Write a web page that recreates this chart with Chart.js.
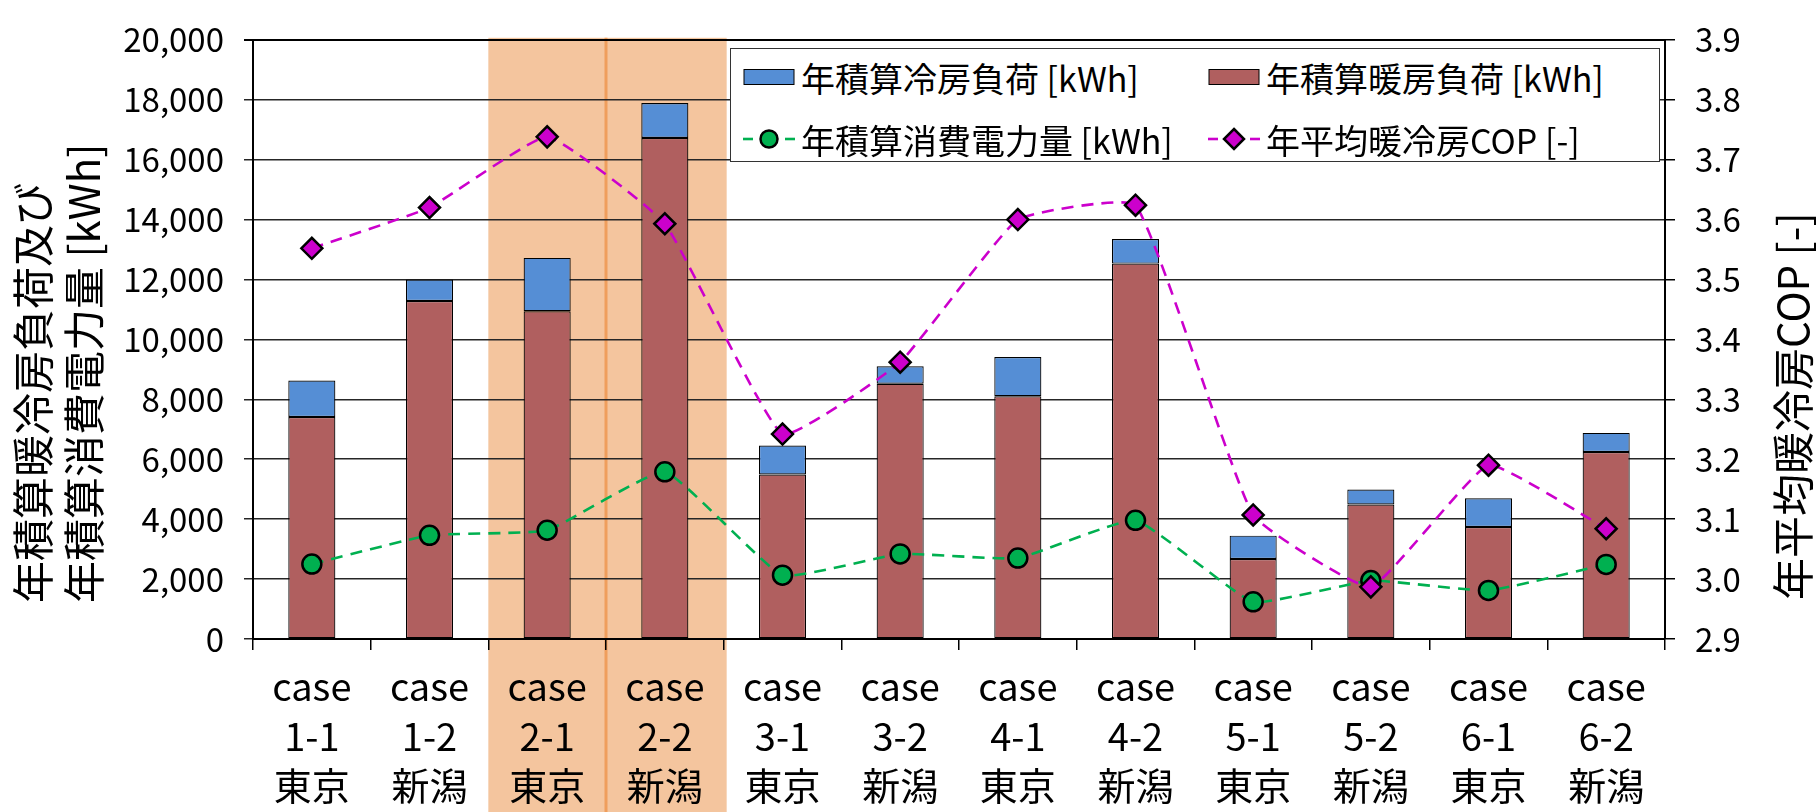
<!DOCTYPE html>
<html lang="ja">
<head>
<meta charset="utf-8">
<title>年積算負荷・消費電力量と年平均暖冷房COP</title>
<script src="https://cdn.jsdelivr.net/npm/chart.js@4.4.1/dist/chart.umd.min.js"></script>
<style>
  html, body { margin: 0; padding: 0; background: #fff; }
  #wrap { position: relative; width: 1816px; height: 812px; }
  #chart { position: absolute; left: 0; top: 0; }
  #legend {
    position: absolute; left: 730px; top: 48px; width: 928px; height: 112px;
    border: 1.5px solid #333; background: #fff;
    font-family: 'Noto Sans CJK JP', sans-serif; font-size: 34px; color: #000;
  }
  #legend .item { position: absolute; display: flex; align-items: center; height: 44px; white-space: nowrap; }
  #legend .item svg { margin-right: 6px; flex: none; }
</style>
</head>
<body>
<div id="wrap">
  <canvas id="chart" width="1816" height="812"></canvas>
  <div id="legend"></div>
</div>
<script>
// ---- data ----
const caseIds = ['1-1', '1-2', '2-1', '2-2', '3-1', '3-2', '4-1', '4-2', '5-1', '5-2', '6-1', '6-2'];
const cities  = ['東京', '新潟', '東京', '新潟', '東京', '新潟', '東京', '新潟', '東京', '新潟', '東京', '新潟'];
const highlightedCases = ['2-1', '2-2'];

const coolingLoad = [1220, 720, 1780, 1170, 970, 580, 1310, 820, 780, 500, 960, 640];        // 年積算冷房負荷 [kWh]
const heatingLoad = [7410, 11280, 10940, 16720, 5490, 8520, 8100, 12530, 2670, 4490, 3740, 6240]; // 年積算暖房負荷 [kWh]
const powerUse    = [2500, 3460, 3630, 5580, 2130, 2840, 2700, 3960, 1240, 1950, 1620, 2490];   // 年積算消費電力量 [kWh]
const copValues   = [3.552, 3.620, 3.738, 3.593, 3.242, 3.362, 3.600, 3.624, 3.107, 2.987, 3.190, 3.084]; // 年平均暖冷房COP [-]

const loadAxis = { min: 0, max: 20000, step: 2000 };
const copAxis  = { min: 2.9, max: 3.9, step: 0.1 };

const seriesNames = {
  cooling: '年積算冷房負荷 [kWh]',
  heating: '年積算暖房負荷 [kWh]',
  power:   '年積算消費電力量 [kWh]',
  cop:     '年平均暖冷房COP [-]'
};
const leftTitle  = ['年積算暖冷房負荷及び', '年積算消費電力量 [kWh]'];
const rightTitle = '年平均暖冷房COP [-]';

const labels = caseIds.map((id, i) => ['case', id, cities[i]]);

const FONT = "'Noto Sans CJK JP', sans-serif";
const LINE_TENSION = 0.12;

// shaded band behind the highlighted cases, with a divider between them
const caseBand = {
  id: 'caseBand',
  beforeDraw(chart) {
    const { ctx, chartArea, scales: { x } } = chart;
    const idx = highlightedCases.map(c => caseIds.indexOf(c));
    const lo = Math.min(...idx), hi = Math.max(...idx);
    const step = x.width / caseIds.length;
    const left = x.getPixelForValue(lo) - step / 2;
    const right = x.getPixelForValue(hi) + step / 2 + 3;
    const top = chartArea.top - 2;
    ctx.save();
    ctx.fillStyle = '#F4C59E';
    ctx.fillRect(left, top, right - left, chart.height - top);
    ctx.strokeStyle = '#EF9E5C';
    ctx.lineWidth = 3;
    for (let i = lo + 1; i <= hi; i++) {
      const xx = x.getPixelForValue(i) - step / 2;
      ctx.beginPath();
      ctx.moveTo(xx, top);
      ctx.lineTo(xx, chart.height);
      ctx.stroke();
    }
    ctx.restore();
  }
};

// rotated axis titles, both reading bottom-to-top
const axisTitles = {
  id: 'axisTitles',
  afterDraw(chart) {
    const { ctx, chartArea } = chart;
    const put = (text, x, y) => {
      ctx.save();
      ctx.translate(x, y);
      ctx.rotate(-Math.PI / 2);
      ctx.fillText(text, 0, 0);
      ctx.restore();
    };
    ctx.save();
    ctx.fillStyle = '#000';
    ctx.font = '42px ' + FONT;
    ctx.textAlign = 'left';
    ctx.textBaseline = 'middle';
    const start = chartArea.bottom - 36;
    put(leftTitle[0], 33, start);
    put(leftTitle[1], 84, start);
    put(rightTitle, 1793, start - 3);
    ctx.restore();
  }
};

function buildChart() {
  Chart.defaults.font.family = FONT;
  Chart.defaults.color = '#000';

  const chart = new Chart(document.getElementById('chart'), {
    type: 'bar',
    data: {
      labels,
      datasets: [
        {
          key: 'heating', label: seriesNames.heating, data: heatingLoad,
          backgroundColor: '#B05F5F', borderColor: '#000', borderWidth: 1.2, borderSkipped: false,
          stack: 'load', order: 2, barPercentage: 0.4, categoryPercentage: 1.0
        },
        {
          key: 'cooling', label: seriesNames.cooling, data: coolingLoad,
          backgroundColor: '#558ED5', borderColor: '#000', borderWidth: 1.2, borderSkipped: false,
          stack: 'load', order: 2, barPercentage: 0.4, categoryPercentage: 1.0
        },
        {
          key: 'power', type: 'line', label: seriesNames.power, data: powerUse,
          yAxisID: 'y', stack: 'power', order: 1,
          borderColor: '#00B050', borderWidth: 2.6, borderDash: [12, 8], tension: LINE_TENSION, fill: false,
          pointStyle: 'circle', pointRadius: 9.5, pointBackgroundColor: '#00B050',
          pointBorderColor: '#000', pointBorderWidth: 2.5
        },
        {
          key: 'cop', type: 'line', label: seriesNames.cop, data: copValues,
          yAxisID: 'y1', order: 0,
          borderColor: '#CC00CC', borderWidth: 2.6, borderDash: [12, 8], tension: LINE_TENSION, fill: false,
          pointStyle: 'rectRot', pointRadius: 10.5, pointBackgroundColor: '#CC00CC',
          pointBorderColor: '#000', pointBorderWidth: 2.5
        }
      ]
    },
    options: {
      responsive: false,
      animation: false,
      devicePixelRatio: 1,
      layout: { padding: { top: 29, left: 0, right: 0, bottom: 0 } },
      plugins: { legend: { display: false }, tooltip: { enabled: false } },
      scales: {
        x: {
          stacked: true,
          afterFit(s) { s.height = 173; },
          grid: { offset: true, drawOnChartArea: false, drawTicks: true, tickLength: 11, color: '#000', lineWidth: 1.5 },
          border: { color: '#000', width: 2 },
          ticks: {
            autoSkip: false, maxRotation: 0, minRotation: 0, padding: 12, color: '#000',
            font: { size: 38, lineHeight: 1.3 }
          }
        },
        y: {
          stacked: true,
          position: 'left',
          min: loadAxis.min, max: loadAxis.max,
          afterFit(s) { s.width = 253; },
          grid: {
            color: ctx => (ctx.tick && ctx.tick.value === loadAxis.max) ? '#000' : '#262626',
            lineWidth: ctx => (ctx.tick && ctx.tick.value === loadAxis.max) ? 2 : 1.5,
            tickLength: 9
          },
          border: { color: '#000', width: 2 },
          ticks: {
            stepSize: loadAxis.step, padding: 20, color: '#000',
            font: { size: 33 },
            callback: v => Number(v).toLocaleString('en-US')
          }
        },
        y1: {
          position: 'right',
          min: copAxis.min, max: copAxis.max,
          afterFit(s) { s.width = 151; },
          grid: { drawOnChartArea: false, tickLength: 10, color: '#000', lineWidth: 1.5 },
          border: { color: '#000', width: 2 },
          ticks: {
            stepSize: copAxis.step, padding: 20, color: '#000',
            font: { size: 33 },
            callback: v => Number(v).toFixed(1)
          }
        }
      }
    },
    plugins: [caseBand, axisTitles]
  });

  buildLegend(chart);
}

// legend box inside the plot area, two items per row
function buildLegend(chart) {
  const box = document.getElementById('legend');
  const byKey = k => chart.data.datasets.find(d => d.key === k);
  const order = ['cooling', 'heating', 'power', 'cop'];
  const slots = [[12, 6], [477, 6], [12, 68], [477, 68]];
  const NS = 'http://www.w3.org/2000/svg';

  order.forEach((k, i) => {
    const ds = byKey(k);
    const item = document.createElement('div');
    item.className = 'item';
    item.style.left = slots[i][0] + 'px';
    item.style.top = slots[i][1] + 'px';

    const svg = document.createElementNS(NS, 'svg');
    svg.setAttribute('width', '52');
    svg.setAttribute('height', '30');
    if (ds.type === 'line') {
      [[0, 10], [42, 52]].forEach(([a, b]) => {
        const ln = document.createElementNS(NS, 'line');
        ln.setAttribute('x1', a); ln.setAttribute('x2', b);
        ln.setAttribute('y1', 15); ln.setAttribute('y2', 15);
        ln.setAttribute('stroke', ds.borderColor);
        ln.setAttribute('stroke-width', ds.borderWidth);
        svg.appendChild(ln);
      });
      let mark;
      if (ds.pointStyle === 'rectRot') {
        mark = document.createElementNS(NS, 'polygon');
        mark.setAttribute('points', '26,5 36,15 26,25 16,15');
      } else {
        mark = document.createElementNS(NS, 'circle');
        mark.setAttribute('cx', 26); mark.setAttribute('cy', 15); mark.setAttribute('r', 8.5);
      }
      mark.setAttribute('fill', ds.pointBackgroundColor);
      mark.setAttribute('stroke', ds.pointBorderColor);
      mark.setAttribute('stroke-width', 2.5);
      svg.appendChild(mark);
    } else {
      const r = document.createElementNS(NS, 'rect');
      r.setAttribute('x', 1); r.setAttribute('y', 7.5);
      r.setAttribute('width', 50); r.setAttribute('height', 15);
      r.setAttribute('fill', ds.backgroundColor);
      r.setAttribute('stroke', '#000');
      r.setAttribute('stroke-width', 1);
      svg.appendChild(r);
    }
    item.appendChild(svg);

    const txt = document.createElement('span');
    txt.textContent = ds.label;
    item.appendChild(txt);
    box.appendChild(item);
  });
}

const ready = document.fonts && document.fonts.load
  ? Promise.all([document.fonts.load('38px "Noto Sans CJK JP"'), document.fonts.load('42px "Noto Sans CJK JP"')]).catch(() => {})
  : Promise.resolve();
ready.then(buildChart);
</script>
</body>
</html>
